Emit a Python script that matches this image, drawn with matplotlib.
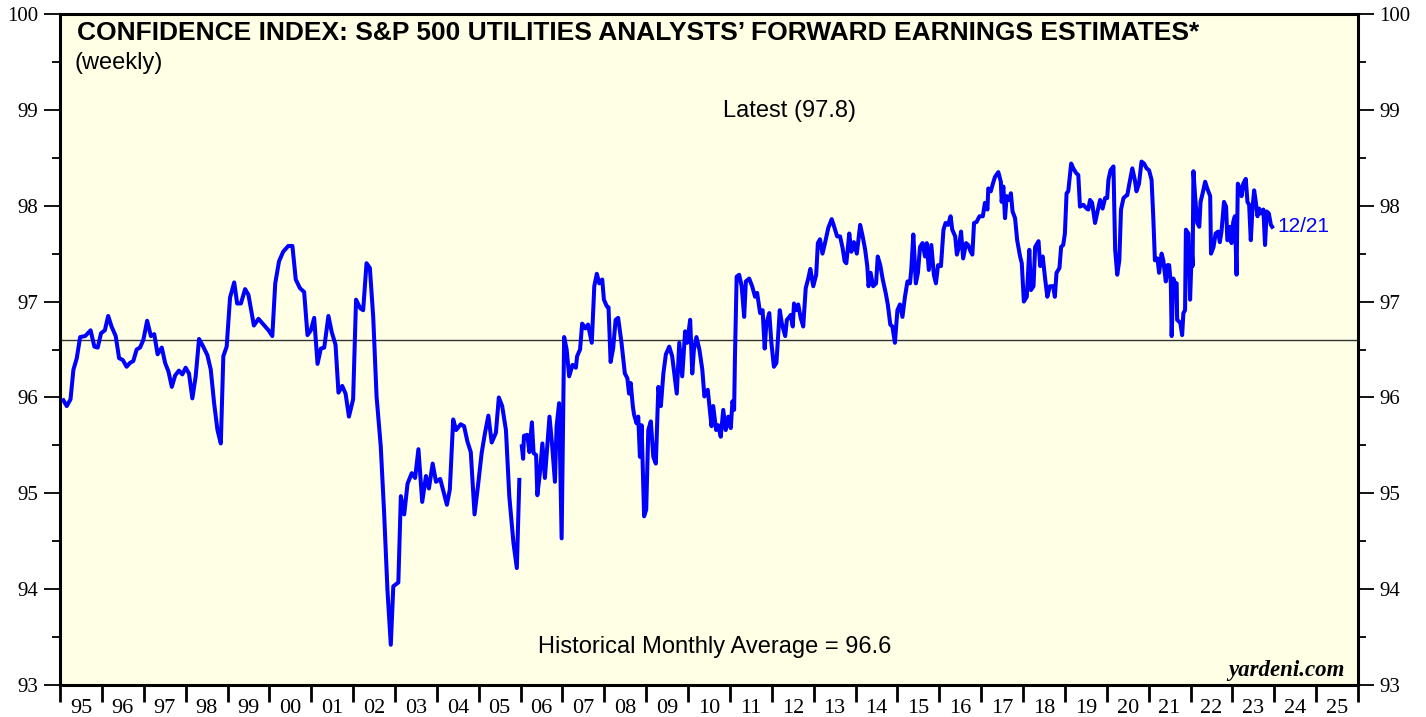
import numpy as np
import matplotlib.pyplot as plt
from matplotlib.ticker import FixedLocator, NullFormatter

# weekly confidence index (decimal year, value); nan = break in series
dates = [
    1995.08, 1995.16, 1995.25, 1995.32, 1995.40, 1995.48, 1995.60, 1995.73, 1995.82, 1995.90,
    1995.98, 1996.07, 1996.15, 1996.23, 1996.33, 1996.41, 1996.50, 1996.59, 1996.67, 1996.75,
    1996.83, 1996.91, 1996.99, 1997.08, 1997.17, 1997.25, 1997.33, 1997.43, 1997.51, 1997.59,
    1997.67, 1997.75, 1997.84, 1997.92, 1998.00, 1998.08, 1998.16, 1998.24, 1998.32, 1998.42,
    1998.52, 1998.60, 1998.68, 1998.76, 1998.84, 1998.90, 1998.98, 1999.06, 1999.16, 1999.23,
    1999.32, 1999.42, 1999.50, 1999.63, 1999.74, 1999.86, 1999.98, 2000.07, 2000.14, 2000.23,
    2000.33, 2000.45, 2000.55, 2000.63, 2000.73, 2000.83, 2000.91, 2000.99, 2001.07, 2001.15,
    2001.23, 2001.31, 2001.41, 2001.49, 2001.58, 2001.65, 2001.74, 2001.82, 2001.90, 2002.00,
    2002.07, 2002.17, 2002.24, 2002.32, 2002.40, 2002.48, 2002.56, 2002.66, 2002.74, 2002.82,
    2002.90, 2002.96, 2003.08, 2003.14, 2003.22, 2003.30, 2003.40, 2003.48, 2003.56, 2003.65,
    2003.74, 2003.81, 2003.90, 2003.98, 2004.08, 2004.24, 2004.31, 2004.39, 2004.46, 2004.57,
    2004.65, 2004.73, 2004.81, 2004.90, 2004.98, 2005.07, 2005.15, 2005.23, 2005.31, 2005.41,
    2005.48, 2005.56, 2005.65, 2005.73, 2005.83, 2005.91, 2005.97, 2006.00,
    2006.03, 2006.06, 2006.08, 2006.16, 2006.21, 2006.27, 2006.31, 2006.37, 2006.40, 2006.46,
    2006.52, 2006.58, 2006.64, 2006.69, 2006.75, 2006.82, 2006.86, 2006.92, 2006.98, 2007.04,
    2007.10, 2007.16, 2007.24, 2007.32, 2007.35, 2007.42, 2007.47, 2007.55, 2007.61, 2007.70,
    2007.76, 2007.82, 2007.88, 2007.95, 2007.99, 2008.06, 2008.10, 2008.15, 2008.21, 2008.27,
    2008.33, 2008.41, 2008.49, 2008.55, 2008.59, 2008.63, 2008.68, 2008.71, 2008.77, 2008.81,
    2008.85, 2008.89, 2008.95, 2009.00, 2009.05, 2009.11, 2009.17, 2009.23, 2009.29, 2009.35,
    2009.41, 2009.47, 2009.55, 2009.62, 2009.73, 2009.79, 2009.86, 2009.93, 2009.98, 2010.05,
    2010.10, 2010.14, 2010.20, 2010.27, 2010.34, 2010.39, 2010.47, 2010.52, 2010.56, 2010.60,
    2010.67, 2010.72, 2010.78, 2010.84, 2010.90, 2010.96, 2011.02, 2011.06, 2011.10, 2011.12,
    2011.16, 2011.22, 2011.28, 2011.34, 2011.38, 2011.46, 2011.53, 2011.60, 2011.65, 2011.72,
    2011.78, 2011.83, 2011.87, 2011.94, 2011.99, 2012.05, 2012.11, 2012.19, 2012.24, 2012.32,
    2012.36, 2012.42, 2012.45, 2012.50, 2012.53, 2012.58, 2012.63, 2012.69, 2012.75, 2012.81,
    2012.87, 2012.92, 2012.99, 2013.06, 2013.10, 2013.15, 2013.21, 2013.27, 2013.35, 2013.43,
    2013.49, 2013.56, 2013.63, 2013.69, 2013.74, 2013.78, 2013.85, 2013.90, 2013.96, 2014.03,
    2014.11, 2014.17, 2014.23, 2014.28, 2014.31, 2014.36, 2014.42, 2014.49, 2014.53, 2014.59,
    2014.65, 2014.72, 2014.77, 2014.83, 2014.88, 2014.94, 2015.00, 2015.06, 2015.12, 2015.18,
    2015.24, 2015.30, 2015.33, 2015.38, 2015.44, 2015.49, 2015.54, 2015.60, 2015.66, 2015.70,
    2015.75, 2015.81, 2015.87, 2015.92, 2015.97, 2016.04, 2016.10, 2016.15, 2016.21, 2016.27,
    2016.31, 2016.38, 2016.42, 2016.47, 2016.52, 2016.57, 2016.64, 2016.69, 2016.75, 2016.79,
    2016.83, 2016.89, 2016.96, 2017.04, 2017.09, 2017.15, 2017.17, 2017.23, 2017.28, 2017.33,
    2017.41, 2017.47, 2017.49, 2017.53, 2017.57, 2017.61, 2017.67, 2017.71, 2017.75, 2017.81,
    2017.86, 2017.93, 2017.97, 2018.02, 2018.09, 2018.15, 2018.19, 2018.25, 2018.29, 2018.37,
    2018.41, 2018.47, 2018.53, 2018.58, 2018.64, 2018.72, 2018.76, 2018.80, 2018.87, 2018.91,
    2018.96, 2019.00, 2019.04, 2019.08, 2019.15, 2019.20, 2019.27, 2019.32, 2019.36, 2019.44,
    2019.52, 2019.56, 2019.60, 2019.65, 2019.72, 2019.78, 2019.84, 2019.90, 2019.96, 2020.01,
    2020.04, 2020.09, 2020.16, 2020.20, 2020.25, 2020.30, 2020.34, 2020.40, 2020.45, 2020.49,
    2020.54, 2020.61, 2020.67, 2020.71, 2020.77, 2020.83, 2020.89, 2020.95, 2021.01, 2021.07,
    2021.11, 2021.15, 2021.21, 2021.25, 2021.31, 2021.35, 2021.41, 2021.45, 2021.49, 2021.53,
    2021.55, 2021.59, 2021.63, 2021.67, 2021.68, 2021.73, 2021.76, 2021.80, 2021.83, 2021.87,
    2021.89, 2021.95, 2021.99, 2022.03, 2022.05, 2022.07, 2022.11, 2022.16, 2022.21, 2022.24,
    2022.29, 2022.35, 2022.40, 2022.47, 2022.49, 2022.55, 2022.60, 2022.66, 2022.70, 2022.74,
    2022.80, 2022.85, 2022.88, 2022.92, 2022.94, 2022.98, 2023.02, 2023.06, 2023.10, 2023.13,
    2023.18, 2023.22, 2023.26, 2023.32, 2023.36, 2023.40, 2023.44, 2023.48, 2023.52, 2023.56,
    2023.60, 2023.64, 2023.68, 2023.74, 2023.78, 2023.82, 2023.87, 2023.92, 2023.95,
]
values = [
    95.97, 95.91, 95.98, 96.29, 96.41, 96.63, 96.64, 96.70, 96.53, 96.52,
    96.67, 96.70, 96.85, 96.74, 96.64, 96.41, 96.39, 96.32, 96.36, 96.38,
    96.50, 96.52, 96.60, 96.80, 96.64, 96.66, 96.45, 96.52, 96.36, 96.27,
    96.11, 96.23, 96.28, 96.24, 96.31, 96.25, 95.99, 96.22, 96.61, 96.53,
    96.44, 96.29, 95.94, 95.66, 95.52, 96.43, 96.53, 97.04, 97.20, 96.98,
    96.98, 97.13, 97.07, 96.75, 96.82, 96.76, 96.70, 96.64, 97.19, 97.42,
    97.52, 97.58, 97.58, 97.23, 97.14, 97.10, 96.65, 96.70, 96.83, 96.35,
    96.51, 96.52, 96.85, 96.68, 96.55, 96.05, 96.12, 96.04, 95.80, 95.98,
    97.02, 96.93, 96.91, 97.40, 97.35, 96.84, 96.01, 95.49, 94.80, 93.99,
    93.42, 94.03, 94.07, 94.97, 94.78, 95.10, 95.21, 95.16, 95.46, 94.91,
    95.18, 95.05, 95.31, 95.12, 95.15, 94.88, 95.04, 95.77, 95.66, 95.72,
    95.70, 95.54, 95.43, 94.78, 95.07, 95.42, 95.63, 95.81, 95.53, 95.63,
    96.00, 95.91, 95.66, 94.97, 94.48, 94.22, 95.14, np.nan,
    95.49, 95.36, 95.60, 95.61, 95.43, 95.74, 95.42, 95.40, 94.98, 95.21,
    95.52, 95.16, 95.51, 95.80, 95.52, 95.12, 95.70, 95.94, 94.53, 96.63,
    96.50, 96.22, 96.34, 96.31, 96.43, 96.50, 96.77, 96.72, 96.76, 96.57,
    97.16, 97.29, 97.19, 97.23, 97.02, 96.95, 96.94, 96.37, 96.51, 96.81,
    96.83, 96.57, 96.25, 96.20, 96.04, 96.15, 95.91, 95.82, 95.73, 95.80,
    95.38, 95.71, 94.76, 94.83, 95.66, 95.75, 95.38, 95.31, 96.11, 95.91,
    96.25, 96.45, 96.53, 96.43, 96.04, 96.57, 96.22, 96.69, 96.57, 96.81,
    96.25, 96.50, 96.63, 96.50, 96.29, 96.01, 96.08, 95.87, 95.70, 95.91,
    95.66, 95.71, 95.59, 95.87, 95.66, 95.80, 95.68, 95.96, 95.87, 96.43,
    97.26, 97.28, 97.16, 96.84, 97.21, 97.24, 97.16, 97.05, 97.09, 96.88,
    96.91, 96.51, 96.77, 96.88, 96.57, 96.32, 96.36, 96.91, 96.77, 96.64,
    96.81, 96.84, 96.86, 96.74, 96.98, 96.91, 96.97, 96.83, 96.74, 97.14,
    97.24, 97.34, 97.16, 97.28, 97.61, 97.65, 97.50, 97.61, 97.77, 97.86,
    97.78, 97.68, 97.68, 97.56, 97.42, 97.40, 97.71, 97.52, 97.62, 97.50,
    97.80, 97.68, 97.54, 97.37, 97.16, 97.30, 97.16, 97.19, 97.47, 97.38,
    97.23, 97.09, 96.97, 96.76, 96.74, 96.57, 96.91, 96.97, 96.84, 97.05,
    97.21, 97.19, 97.33, 97.70, 97.19, 97.30, 97.57, 97.61, 97.47, 97.61,
    97.33, 97.59, 97.28, 97.19, 97.38, 97.37, 97.75, 97.82, 97.80, 97.89,
    97.75, 97.68, 97.49, 97.57, 97.73, 97.45, 97.61, 97.59, 97.52, 97.49,
    97.82, 97.83, 97.89, 97.89, 98.03, 97.96, 98.18, 98.15, 98.23, 98.30,
    98.35, 98.25, 98.04, 98.20, 97.87, 98.10, 98.06, 98.13, 97.94, 97.87,
    97.64, 97.47, 97.40, 97.00, 97.05, 97.54, 97.12, 97.16, 97.57, 97.63,
    97.37, 97.47, 97.23, 97.05, 97.16, 97.16, 97.05, 97.30, 97.35, 97.57,
    97.59, 97.71, 98.13, 98.15, 98.44, 98.39, 98.34, 98.32, 97.99, 98.01,
    97.97, 97.96, 98.06, 98.03, 97.82, 97.94, 98.06, 97.97, 98.08, 98.08,
    98.27, 98.37, 98.41, 97.54, 97.28, 97.43, 97.96, 98.08, 98.10, 98.11,
    98.23, 98.39, 98.27, 98.15, 98.23, 98.46, 98.44, 98.39, 98.37, 98.27,
    97.89, 97.43, 97.45, 97.30, 97.50, 97.43, 97.21, 97.38, 97.38, 97.19,
    96.64, 97.24, 97.19, 97.19, 96.81, 96.79, 96.77, 96.65, 96.88, 96.91,
    97.75, 97.71, 97.02, 97.54, 97.37, 98.36, 98.10, 97.82, 97.78, 98.04,
    98.13, 98.25, 98.18, 98.10, 97.50, 97.57, 97.71, 97.73, 97.62, 97.73,
    98.04, 97.99, 97.64, 97.66, 97.78, 97.61, 97.83, 97.89, 97.28, 98.23,
    98.18, 98.10, 98.23, 98.28, 98.04, 98.01, 97.64, 97.97, 98.16, 98.04,
    97.89, 97.97, 97.92, 97.96, 97.59, 97.94, 97.92, 97.80, 97.78,
]

hist_avg = 96.6
latest = 97.8
latest_date = "12/21"
years = list(range(1995, 2026))
year_labels = [f"{y % 100:02d}" for y in years]

fig = plt.figure(figsize=(14.26, 7.17), dpi=100)
ax = fig.add_axes([0.0421, 0.0446, 0.9102, 0.9359])
ax.set_facecolor("#ffffe6")

ax.plot(dates, values, color="#0000ff", lw=2.9, solid_joinstyle="round", zorder=3)
ax.axhline(hist_avg, color="#333333", lw=1.0, zorder=2)

ax.set_xlim(1995, 2026)
ax.set_ylim(93, 100)

for s in ax.spines.values():
    s.set_linewidth(2.2)
    s.set_color("black")

# y axis: labels on both sides, outward ticks
ax.set_yticks(np.arange(93, 101, 1))
ax.yaxis.set_minor_locator(FixedLocator(np.arange(93.5, 100, 1)))
ax.tick_params(axis="y", which="major", direction="out", length=11.5, width=1.3,
               left=True, right=True, labelleft=True, labelright=True, labelsize=15, pad=4)
ax.tick_params(axis="y", which="minor", direction="out", length=5.8, width=1.3,
               left=True, right=True)

# x axis: year boundaries as ticks, labels centered in each year
ax.xaxis.set_major_locator(FixedLocator(years + [2026]))
ax.xaxis.set_major_formatter(NullFormatter())
ax.xaxis.set_minor_locator(FixedLocator([y + 0.5 for y in years]))
ax.set_xticklabels(year_labels, minor=True)
ax.tick_params(axis="x", which="major", direction="out", length=12, width=2)
ax.tick_params(axis="x", which="minor", length=0, labelsize=16, pad=10)

for lbl in ax.get_yticklabels() + ax.get_xticklabels(minor=True):
    lbl.set_family("Liberation Serif")

ax.text(0.013, 0.971, "CONFIDENCE INDEX: S&P 500 UTILITIES ANALYSTS’ FORWARD EARNINGS ESTIMATES*",
        transform=ax.transAxes, fontsize=19, fontweight="bold", family="Liberation Sans",
        va="center", ha="left")
ax.text(0.011, 0.927, "(weekly)", transform=ax.transAxes, fontsize=17,
        family="Liberation Sans", va="center", ha="left")
ax.text(0.562, 0.855, f"Latest ({latest})", transform=ax.transAxes, fontsize=17,
        family="Liberation Sans", va="center", ha="center")
ax.text(0.504, 0.056, f"Historical Monthly Average = {hist_avg}", transform=ax.transAxes,
        fontsize=17, family="Liberation Sans", va="center", ha="center")
ax.text(0.990, 0.022, "yardeni.com", transform=ax.transAxes, fontsize=16.5,
        family="Liberation Serif", fontweight="bold", style="italic", va="center", ha="right")
ax.text(0.938, 0.683, latest_date, transform=ax.transAxes, fontsize=15, color="#0000ff",
        family="Liberation Sans", va="center", ha="left")

fig.savefig("out.png", dpi=100)
